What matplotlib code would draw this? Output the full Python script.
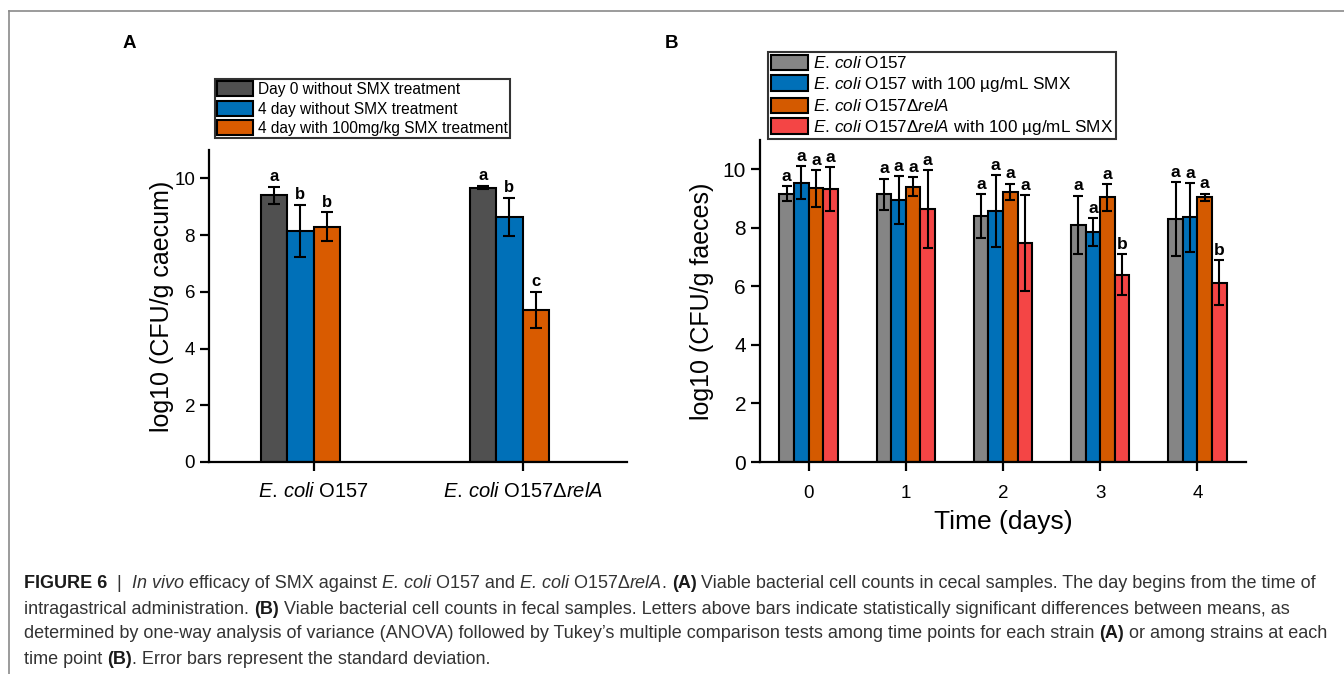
import matplotlib
matplotlib.use("Agg")
import matplotlib.pyplot as plt
import numpy as np
from matplotlib.lines import Line2D

plt.rcParams['font.family'] = ['Liberation Sans', 'DejaVu Sans']
plt.rcParams['mathtext.fontset'] = 'custom'
plt.rcParams['mathtext.rm'] = 'Liberation Sans'
plt.rcParams['mathtext.it'] = 'Liberation Sans:italic'
plt.rcParams['mathtext.bf'] = 'Liberation Sans:bold'

# ---------------- data: panel A ----------------
a_groups = [r'$\mathit{E.\,coli}$ O157', r'$\mathit{E.\,coli}$ O157Δ$\mathit{relA}$']
a_series = ['Day 0 without SMX treatment', '4 day without SMX treatment',
            '4 day with 100mg/kg SMX treatment']
a_means = [[9.40, 9.67], [8.14, 8.64], [8.30, 5.37]]
a_err = [[0.30, 0.05], [0.93, 0.68], [0.50, 0.64]]
a_letters = [['a', 'a'], ['b', 'b'], ['b', 'c']]
a_colors = ['#505050', '#0070b8', '#d95b00']

# ---------------- data: panel B ----------------
b_days = [0, 1, 2, 3, 4]
b_series = [r'$\mathit{E.\,coli}$ O157',
            r'$\mathit{E.\,coli}$ O157 with 100 µg/mL SMX',
            r'$\mathit{E.\,coli}$ O157Δ$\mathit{relA}$',
            r'$\mathit{E.\,coli}$ O157Δ$\mathit{relA}$ with 100 µg/mL SMX']
b_means = [[9.16, 9.15, 8.40, 8.10, 8.30],
           [9.54, 8.95, 8.58, 7.85, 8.36],
           [9.35, 9.41, 9.23, 9.04, 9.04],
           [9.33, 8.63, 7.47, 6.39, 6.12]]
b_err = [[0.26, 0.53, 0.76, 1.00, 1.25],
         [0.57, 0.82, 1.22, 0.48, 1.17],
         [0.63, 0.32, 0.28, 0.45, 0.13],
         [0.74, 1.33, 1.64, 0.70, 0.77]]
b_letters = [['a', 'a', 'a', 'a', 'a'],
             ['a', 'a', 'a', 'a', 'a'],
             ['a', 'a', 'a', 'a', 'a'],
             ['a', 'a', 'a', 'b', 'b']]
b_colors = ['#858585', '#0070b8', '#d45a00', '#f44545']

W, H = 1344, 674
fig = plt.figure(figsize=(W / 100, H / 100), dpi=100)

def fx(px):
    return px / W

def fy(py):
    return 1 - py / H

def style_axes(ax):
    for s in ['top', 'right']:
        ax.spines[s].set_visible(False)
    for s in ['left', 'bottom']:
        ax.spines[s].set_linewidth(1.6)
    ax.tick_params(direction='out', length=6.5, width=1.6)

# ---------------- panel A ----------------
axA = fig.add_axes([fx(209), fy(462), fx(627) - fx(209), fy(150) - fy(462)])
style_axes(axA)
wA = 0.125
xA = np.arange(1, len(a_groups) + 1)
for i, (m, e, c, lab) in enumerate(zip(a_means, a_err, a_colors, a_series)):
    pos = xA + (i - 1.5) * wA
    axA.bar(pos, m, width=wA, color=c, edgecolor='black', linewidth=1.5,
            label=lab, zorder=2)
    axA.errorbar(pos, m, yerr=e, fmt='none', ecolor='black', elinewidth=1.5,
                 capsize=4.5, capthick=1.5, zorder=3)
    for p, mv, ev, lt in zip(pos, m, e, a_letters[i]):
        axA.text(p, mv + ev + 0.1, lt, ha='center', va='bottom',
                 fontsize=12, fontweight='bold')
axA.set_xlim(0.5, 2.5)
axA.set_ylim(0, 11)
axA.set_yticks([0, 2, 4, 6, 8, 10])
axA.set_xticks(xA)
axA.set_xticklabels(a_groups, fontsize=14.5)
axA.tick_params(axis='y', labelsize=13.5)
axA.tick_params(axis='x', pad=8)
axA.set_ylabel('log10 (CFU/g caecum)', fontsize=18, labelpad=0)
legA = fig.legend(*axA.get_legend_handles_labels(), loc='upper left',
                  bbox_to_anchor=(fx(215), fy(79)), borderaxespad=0,
                  fontsize=11.2, frameon=True, fancybox=False, edgecolor='black',
                  handlelength=2.3, handleheight=1.1, handletextpad=0.3,
                  labelspacing=0.24, borderpad=0.15)
legA.get_frame().set_linewidth(1.5)

# ---------------- panel B ----------------
axB = fig.add_axes([fx(760), fy(462), fx(1246) - fx(760), fy(140) - fy(462)])
style_axes(axB)
wB = 0.15
xB = np.array(b_days, dtype=float)
for i, (m, e, c, lab) in enumerate(zip(b_means, b_err, b_colors, b_series)):
    pos = xB + (i - 1.5) * wB
    axB.bar(pos, m, width=wB, color=c, edgecolor='black', linewidth=1.5,
            label=lab, zorder=2)
    axB.errorbar(pos, m, yerr=e, fmt='none', ecolor='black', elinewidth=1.5,
                 capsize=3.8, capthick=1.5, zorder=3)
    for p, mv, ev, lt in zip(pos, m, e, b_letters[i]):
        axB.text(p, mv + ev + 0.08, lt, ha='center', va='bottom',
                 fontsize=12.5, fontweight='bold')
axB.set_xlim(-0.5, 4.5)
axB.set_ylim(0, 11)
axB.set_yticks([0, 2, 4, 6, 8, 10])
axB.set_xticks(xB)
axB.set_xticklabels([str(d) for d in b_days], fontsize=13.5)
axB.tick_params(axis='y', labelsize=15)
axB.tick_params(axis='x', pad=10)
axB.set_ylabel('log10 (CFU/g faeces)', fontsize=18, labelpad=6)
axB.set_xlabel('Time (days)', fontsize=19, labelpad=6)
legB = fig.legend(*axB.get_legend_handles_labels(), loc='upper left',
                  bbox_to_anchor=(fx(768), fy(52)), borderaxespad=0,
                  fontsize=12.3, frameon=True, fancybox=False, edgecolor='black',
                  handlelength=2.2, handleheight=1.0, handletextpad=0.3,
                  labelspacing=0.22, borderpad=0.15)
legB.get_frame().set_linewidth(1.5)

# panel letters
fig.text(fx(129), fy(43), 'A', fontsize=13.5, fontweight='bold', ha='center', va='center')
fig.text(fx(671), fy(43), 'B', fontsize=13.5, fontweight='bold', ha='center', va='center')

# frame lines
fig.add_artist(Line2D([fx(9), fx(1344)], [fy(11), fy(11)], color='#8a8a8a', lw=1.2))
fig.add_artist(Line2D([fx(9), fx(9)], [fy(11), fy(674)], color='#8a8a8a', lw=1.2))

# ---------------- caption ----------------
cap_lines = [
    [("FIGURE 6", 'bold'), ("  | ", 'normal'), (" ", 'normal'), ("In vivo", 'italic'),
     (" efficacy of SMX against ", 'normal'), ("E. coli", 'italic'),
     (" O157 and ", 'normal'), ("E. coli", 'italic'), (" O157Δ", 'normal'),
     ("relA", 'italic'), (". ", 'normal'), ("(A)", 'bold'),
     (" Viable bacterial cell counts in cecal samples. The day begins from the time of", 'normal')],
    [("intragastrical administration. ", 'normal'), ("(B)", 'bold'),
     (" Viable bacterial cell counts in fecal samples. Letters above bars indicate statistically significant differences between means, as", 'normal')],
    [("determined by one-way analysis of variance (ANOVA) followed by Tukey’s multiple comparison tests among time points for each strain ", 'normal'),
     ("(A)", 'bold'), (" or among strains at each", 'normal')],
    [("time point ", 'normal'), ("(B)", 'bold'), (". Error bars represent the standard deviation.", 'normal')],
]
cap_y = [583, 609, 634, 659]
renderer = fig.canvas.get_renderer()
for line, yy in zip(cap_lines, cap_y):
    x = 24
    for txt, sty in line:
        kw = dict(fontsize=13.0, va='center', ha='left', color='#333333')
        if sty == 'bold':
            kw['fontweight'] = 'bold'
            kw['color'] = '#1a1a1a'
        elif sty == 'italic':
            kw['fontstyle'] = 'italic'
        t = fig.text(fx(x), fy(yy), txt, **kw)
        bb = t.get_window_extent(renderer)
        x += bb.width

fig.savefig('out.png', dpi=100)
